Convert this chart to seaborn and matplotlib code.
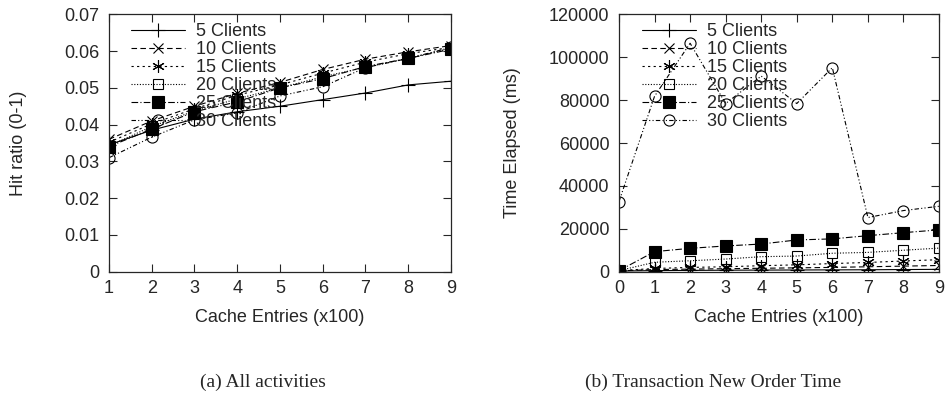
import matplotlib
matplotlib.use("Agg")
import matplotlib.pyplot as plt
import seaborn as sns
import pandas as pd

sns.set_style("ticks")
plt.rcParams['font.family'] = ['Liberation Sans', 'DejaVu Sans']

labels = ["5 Clients", "10 Clients", "15 Clients", "20 Clients", "25 Clients", "30 Clients"]

# (a) Hit ratio
x_a = [1, 2, 3, 4, 5, 6, 7, 8, 9]
hit_5 = [0.0345, 0.0385, 0.0415, 0.0435, 0.0450, 0.0468, 0.0486, 0.0508, 0.0518]
hit_10 = [0.0360, 0.0410, 0.0450, 0.0485, 0.0515, 0.0550, 0.0578, 0.0598, 0.0615]
hit_15 = [0.0352, 0.0402, 0.0443, 0.0480, 0.0508, 0.0540, 0.0570, 0.0593, 0.0610]
hit_20 = [0.0342, 0.0395, 0.0437, 0.0470, 0.0500, 0.0530, 0.0556, 0.0580, 0.0608]
hit_25 = [0.0340, 0.0388, 0.0435, 0.0462, 0.0500, 0.0525, 0.0558, 0.0580, 0.0605]
hit_30 = [0.0310, 0.0366, 0.0413, 0.0432, 0.0478, 0.0503, 0.0555, 0.0580, 0.0610]

# (b) Transaction New Order Time
x_b = [0, 1, 2, 3, 4, 5, 6, 7, 8, 9]
t_5 = [300, 500, 600, 700, 750, 800, 850, 900, 1000, 1100]
t_10 = [400, 1000, 1200, 1400, 1600, 1800, 2000, 2300, 2600, 2900]
t_15 = [500, 1500, 2000, 2300, 2800, 3200, 3800, 4300, 5000, 5600]
t_20 = [500, 4400, 5100, 5900, 7000, 7300, 8600, 9000, 10000, 11000]
t_25 = [500, 9350, 10900, 12000, 12900, 14800, 15300, 16800, 18200, 19500]
t_30 = [32700, 81800, 106500, 78400, 91200, 78400, 95100, 25250, 28500, 30500]

styles = [
    dict(marker="+", ms=10, mfc="none", dashes=None),
    dict(marker="x", ms=7, mfc="none", dashes=(5, 3)),
    dict(marker=(6, 2, 0), ms=9, mfc="none", dashes=(2, 3)),
    dict(marker="s", ms=7, mfc="none", dashes=(1, 1.5)),
    dict(marker="s", ms=8, mfc="black", dashes=(6, 2, 1, 2)),
    dict(marker="o", ms=8, mfc="none", dashes=(4, 2, 1, 2, 1, 2)),
]

FS = 13
W, H = 948, 400
fig = plt.figure(figsize=(9.48, 4.0), dpi=100)
ax1 = fig.add_axes([109/W, 1 - 271.7/H, (451 - 109)/W, (271.7 - 14.3)/H])
ax2 = fig.add_axes([619/W, 1 - 271.7/H, (939 - 619)/W, (271.7 - 14.3)/H])


def draw(ax, x, series, leg_x):
    for lab, y, st in zip(labels, series, styles):
        df = pd.DataFrame({"x": x, "y": y})
        sns.lineplot(data=df, x="x", y="y", ax=ax, color="black", lw=0.8,
                     marker=st["marker"], markersize=st["ms"],
                     markerfacecolor=st["mfc"], markeredgecolor="black",
                     markeredgewidth=0.8, label=lab)
        line = ax.lines[-1]
        if st["dashes"] is not None:
            line.set_dashes(st["dashes"])
    ax.tick_params(direction="in", length=5.5, width=0.8, top=True, right=True,
                   labelsize=FS)
    ax.tick_params(axis="x", pad=6)
    ax.tick_params(axis="y", pad=7)
    for s in ax.spines.values():
        s.set_linewidth(0.9)
        s.set_visible(True)
    ax.legend(loc="upper left", frameon=False, fontsize=FS,
              handlelength=3.0, handletextpad=0.6, labelspacing=0.05,
              borderaxespad=0.0, borderpad=0.0,
              bbox_to_anchor=(leg_x, 0.965))
    ax.set_xlabel("Cache Entries (x100)", fontsize=FS)
    ax.xaxis.set_label_coords(0.5, (271.7 - 309) / 257.4)


draw(ax1, x_a, [hit_5, hit_10, hit_15, hit_20, hit_25, hit_30], (131 - 109) / 342)
ax1.set_xlim(1, 9)
ax1.set_ylim(0, 0.07)
ax1.set_xticks(x_a)
ax1.set_yticks([0, 0.01, 0.02, 0.03, 0.04, 0.05, 0.06, 0.07])
ax1.set_yticklabels(["0", "0.01", "0.02", "0.03", "0.04", "0.05", "0.06", "0.07"])
ax1.set_ylabel("Hit ratio (0-1)", fontsize=FS)
ax1.yaxis.set_label_coords((27 - 109) / 342, 0.5)

draw(ax2, x_b, [t_5, t_10, t_15, t_20, t_25, t_30], (642 - 619) / 320)
ax2.set_xlim(0, 9)
ax2.set_ylim(0, 120000)
ax2.set_xticks(x_b)
ax2.set_yticks([0, 20000, 40000, 60000, 80000, 100000, 120000])
ax2.set_yticklabels(["0", "20000", "40000", "60000", "80000", "100000", "120000"])
ax2.set_ylabel("Time Elapsed (ms)", fontsize=FS)
ax2.yaxis.set_label_coords((521 - 619) / 320, 0.5)

fig.text(263/W, 1 - 382/H, "(a) All activities", ha="center", va="center",
         fontsize=14, family=["Liberation Serif", "DejaVu Serif"])
fig.text(713/W, 1 - 382/H, "(b) Transaction New Order Time", ha="center", va="center",
         fontsize=14, family=["Liberation Serif", "DejaVu Serif"])

fig.savefig("out.png", dpi=100)
